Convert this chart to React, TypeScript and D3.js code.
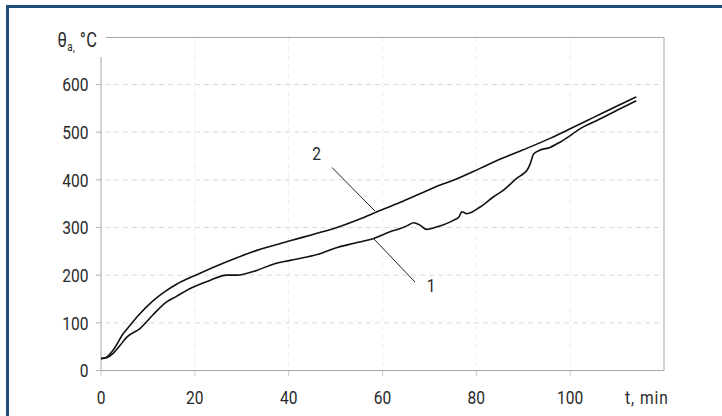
import React from "react";
import * as d3 from "d3";

const W = 722;
const H = 416;

const xTicks = [0, 20, 40, 60, 80, 100];
const yTicks = [0, 100, 200, 300, 400, 500, 600];

// Curve 2 (upper)
const t2 = [0, 1, 2.6, 4.8, 6.2, 8, 11.2, 14, 16.1, 20.4, 26.8, 33.2, 40.3, 45, 50, 54.5, 58.1, 63.8, 68, 72.3, 75.1, 80.8, 85, 90, 95.7, 100, 105, 110, 114.1];
const v2 = [25, 27, 43, 78, 95, 116, 147, 168, 181, 201, 228, 252, 272, 285, 299, 315, 330, 353, 371, 389, 399, 424, 443, 463, 487, 507, 531, 555, 574];

// Curve 1 (lower)
const t1 = [0, 1.2, 2.6, 4, 5.5, 8.3, 11, 14, 16, 19, 23.2, 26.8, 28.9, 33.2, 36.7, 40.3, 43.9, 47, 50, 54, 58.1, 61.6, 63.8, 65.5, 66.6, 68, 69.4, 71.5, 75.1, 76.3, 76.9, 78, 80.8, 83.6, 86, 88.6, 90.3, 90.8, 91.5, 92.2, 93.5, 95.7, 98, 102.8, 106, 110, 114.1];
const v1 = [25, 27, 36, 52, 70, 88, 116, 144, 155, 172, 189, 200, 200, 210, 223, 231, 238, 246, 257, 267, 277, 291, 298, 305, 310, 305, 296, 301, 315, 322, 333, 329, 343, 364, 380, 403, 415, 420, 434, 454, 462, 468, 480, 511, 526, 546, 566];

const curveLabels = ["1", "2"];

const FONT = "Roboto, 'Liberation Sans', sans-serif";
const SX = 0.82;

function T({ x, y, anchor = "start", size = 19, dy, spacing, children }: any) {
  return (
    <text
      transform={`translate(${x},${y}) scale(${SX},1)`}
      fontSize={size}
      textAnchor={anchor}
      dy={dy}
      letterSpacing={spacing}
      fill="#2a2a2a"
    >
      {children}
    </text>
  );
}

export default function App() {
  const x = d3.scaleLinear().domain([0, 120]).range([101, 664]);
  const y = d3.scaleLinear().domain([0, 600]).range([370.5, 84.5]);
  const yTop = 37.5;

  const line = d3
    .line<[number, number]>()
    .x((d) => x(d[0]))
    .y((d) => y(d[1]))
    .curve(d3.curveMonotoneX);

  const d2 = line(t2.map((t, i) => [t, v2[i]] as [number, number])) || "";
  const d1 = line(t1.map((t, i) => [t, v1[i]] as [number, number])) || "";

  return (
    <svg
      width={W}
      height={H}
      style={{ position: "absolute", left: 0, top: 0, background: "#fff" }}
      fontFamily={FONT}
    >
      {/* outer frame (left & top) */}
      <line x1={7.5} y1={5} x2={7.5} y2={H} stroke="#1f4f78" strokeWidth={3} />
      <line x1={6} y1={6.5} x2={W} y2={6.5} stroke="#1f4f78" strokeWidth={3} />

      {/* grid */}
      {yTicks.slice(1).map((v) => (
        <line key={"gy" + v} x1={96} x2={664} y1={y(v)} y2={y(v)} stroke="#d9d9d9" strokeDasharray="5,4" />
      ))}
      {xTicks.slice(1).map((t) => (
        <line key={"gx" + t} x1={x(t)} x2={x(t)} y1={yTop} y2={370.5} stroke="#ececec" strokeDasharray="5,4" />
      ))}
      {/* ticks */}
      {yTicks.map((v) => (
        <line key={"ty" + v} x1={96} x2={101} y1={y(v)} y2={y(v)} stroke="#bbb" />
      ))}
      {xTicks.map((t) => (
        <line key={"tx" + t} x1={x(t)} x2={x(t)} y1={370.5} y2={376} stroke="#ccc" />
      ))}

      {/* frame */}
      <line x1={106} x2={664} y1={yTop} y2={yTop} stroke="#a6a6a6" />
      <line x1={664} x2={664} y1={yTop} y2={370.5} stroke="#a6a6a6" />
      <line x1={101} x2={664} y1={370.5} y2={370.5} stroke="#a6a6a6" />
      <line x1={101} x2={101} y1={57} y2={370.5} stroke="#a6a6a6" />

      {/* curves */}
      <path d={d2} fill="none" stroke="#111" strokeWidth={1.6} />
      <path d={d1} fill="none" stroke="#111" strokeWidth={1.6} />

      {/* leader lines */}
      <line x1={332} y1={167.5} x2={375} y2={211} stroke="#222" strokeWidth={1} />
      <line x1={373} y1={238} x2={415} y2={282} stroke="#222" strokeWidth={1} />
      <T x={316.5} y={160} anchor="middle">{curveLabels[1]}</T>
      <T x={431} y={291.5} anchor="middle">{curveLabels[0]}</T>

      {/* y tick labels */}
      {yTicks.map((v) => (
        <T key={"ly" + v} x={88.5} y={y(v)} dy="0.36em" anchor="end">
          {v}
        </T>
      ))}
      {/* x tick labels */}
      {xTicks.map((t) => (
        <T key={"lx" + t} x={x(t)} y={404} anchor="middle">
          {t}
        </T>
      ))}
      <T x={625} y={404} spacing={1.2}>t, min</T>

      {/* y axis title */}
      <T x={57.5} y={46.5} size={20} spacing={0.5}>
        θ
        <tspan fontSize={12} dy={4}>a,</tspan>
        <tspan dy={-4}> °C</tspan>
      </T>
    </svg>
  );
}
